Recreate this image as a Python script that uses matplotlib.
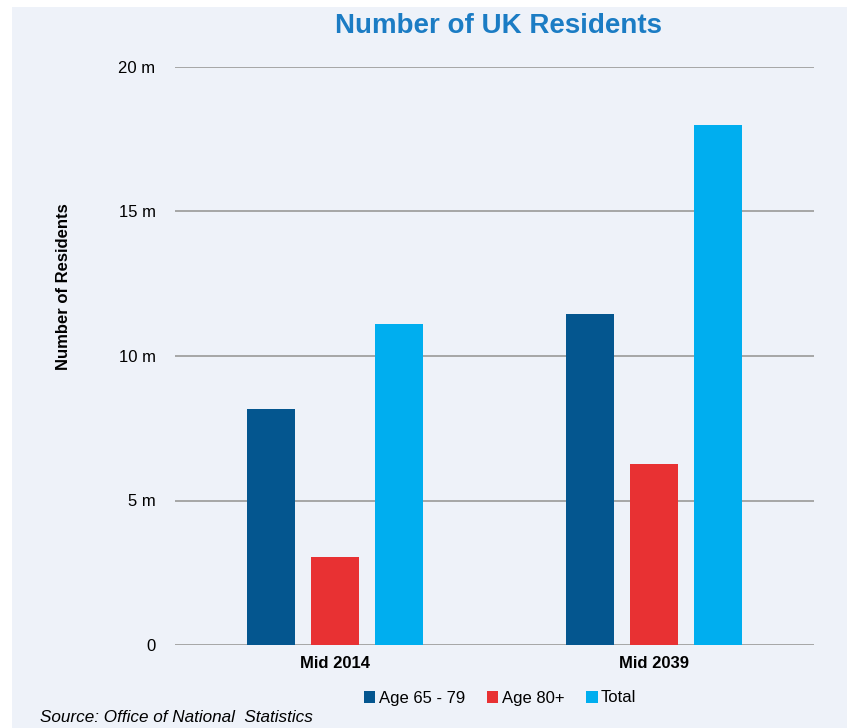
import numpy as np
import matplotlib.pyplot as plt
from matplotlib.patches import Rectangle

plt.rcParams['font.family'] = ['Liberation Sans', 'DejaVu Sans']

categories = ['Mid 2014', 'Mid 2039']
series_names = ['Age 65 - 79', 'Age 80+', 'Total']
age_65_79 = [8.15, 11.45]
age_80_plus = [3.05, 6.25]
total = [11.1, 18.0]
yticks = [0, 5, 10, 15, 20]
ytick_labels = ['0', '5 m', '10 m', '15 m', '20 m']

colors = ['#04568f', '#e83133', '#00aeef']
bg = '#eef2f9'

fig = plt.figure(figsize=(8.47, 7.28), dpi=100)
fig.patch.set_facecolor('white')
fig.patches.append(Rectangle((12 / 847, 0), 1, 1 - 7 / 728, transform=fig.transFigure,
                             facecolor=bg, edgecolor='none', zorder=-10))

ax = fig.add_axes([175 / 847, 1 - 645 / 728, 639 / 847, (645 - 67) / 728])
ax.set_facecolor(bg)

x = np.arange(len(categories))
w = 0.15
step = 0.2
for i, (vals, name) in enumerate(zip([age_65_79, age_80_plus, total], series_names)):
    ax.bar(x + (i - 1) * step, vals, width=w, color=colors[i], label=name, zorder=3)

ax.set_xlim(-0.5, 1.5)
ax.set_ylim(0, 20)
ax.set_yticks(yticks)
ax.set_yticklabels(ytick_labels, fontsize=12)
ax.set_xticks(x)
ax.set_xticklabels(categories, fontsize=12, fontweight='bold')
ax.tick_params(axis='both', length=0)
ax.tick_params(axis='y', pad=14)
ax.tick_params(axis='x', pad=8)
ax.yaxis.grid(True, color='#a6a6a6', linewidth=1.4, zorder=0)
for s in ax.spines.values():
    s.set_visible(False)

fig.text(63 / 847, 1 - 287 / 728, 'Number of Residents', rotation=90, ha='center',
         va='center', fontsize=12, fontweight='bold')

fig.text(498 / 847, 1 - 26 / 728, 'Number of UK Residents', ha='center', va='center',
         fontsize=20, fontweight='bold', color='#1b7cc4')

leg = fig.legend(loc='center', bbox_to_anchor=(500 / 847, 1 - 698 / 728), ncol=3,
                 frameon=False, fontsize=12, handlelength=0.7, handleheight=0.7,
                 handletextpad=0.2, columnspacing=1.3)

fig.text(40 / 847, 1 - 718 / 728, 'Source: Office of National  Statistics', ha='left',
         va='center', fontsize=12.3, style='italic')

fig.savefig('out.png', dpi=100, facecolor=fig.get_facecolor())
